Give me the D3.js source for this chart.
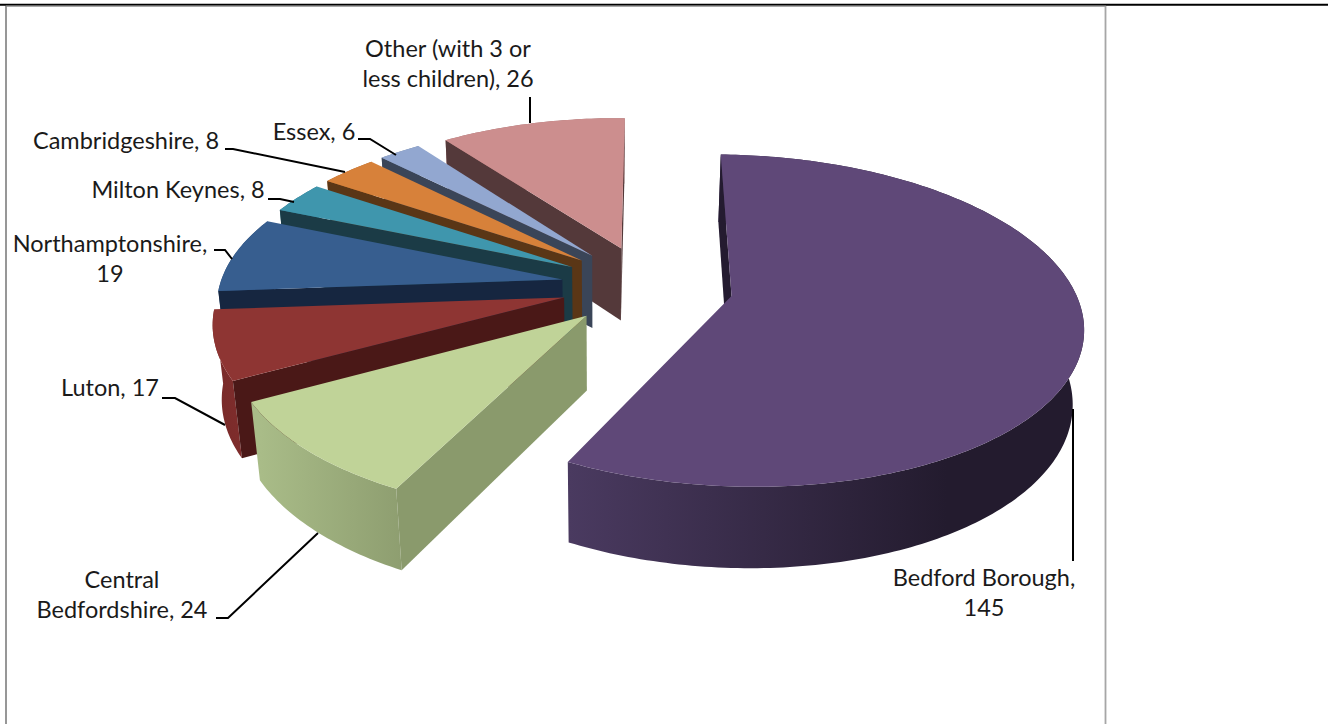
<!DOCTYPE html>
<html><head><meta charset="utf-8">
<script src="https://cdn.jsdelivr.net/npm/d3@7"></script>
<style>html,body{margin:0;padding:0;background:#fff;overflow:hidden}
text{font-family:Lato,"Open Sans",sans-serif;font-size:23.5px;fill:#1a1a1a}</style>
</head><body><svg id="c" width="1328" height="724"></svg>
<script>
// Data
const categories = ["Bedford Borough","Central Bedfordshire","Luton","Northamptonshire","Milton Keynes","Cambridgeshire","Essex","Other (with 3 or less children)"];
const values = [145,24,17,19,8,8,6,26];
const explosions = [85,87,87,87,87,87,87,87];
const radii = [342,343,343,343,343,343,343,343];
// Colours
const topColors  = ["#5f4878","#c0d398","#8e3533","#375e8f","#3f96ad","#d7813a","#92a7d0","#cc8e8e"];
const faceColors = ["#241b30","#8a9a6c","#4a1817","#162640","#1b3b46","#5a3616","#3a4558","#54393a"];
const rimLeft    = ["#4a3a60","#a9bc88","#7a2b2a","#2e4e76","#2f7486","#a8652c","#75869f","#a37171"];
const rimRight   = ["#231b2e","#8e9e70","#7f2d2c","#2e4e76","#2f7486","#a8652c","#75869f","#a37171"];
// Labels and leaders (layout)
const labelLines = [
 {lines:["Bedford Borough,","145"],x:984,y:578,leader:[[1073,409],[1073,561]]},
 {lines:["Central","Bedfordshire, 24"],x:122,y:580,leader:[[216,618],[228,618],[318,533]]},
 {lines:["Luton, 17"],x:110,y:388,leader:[[162,398],[175,398],[225,425]]},
 {lines:["Northamptonshire,","19"],x:110,y:244,leader:[[214,250],[225,250],[232,259]]},
 {lines:["Milton Keynes, 8"],x:178,y:190,leader:[[268,199],[280,199],[294,202]]},
 {lines:["Cambridgeshire, 8"],x:126,y:141,leader:[[225,149],[233,149],[345,172]]},
 {lines:["Essex, 6"],x:314,y:132,leader:[[358,139],[370,139],[396,155]]},
 {lines:["Other (with 3 or","less children), 26"],x:448,y:49,leader:[[530,97],[530,123]]}
];
const lineGap = 29.5;

// Model of the 3D view
const H=85, TILT=27.8*Math.PI/180, DIST=2050, ZP=1.2, PX=600, PY=286, X0=48, ROT=1.2*Math.PI/180;
const st=Math.sin(TILT), ct=Math.cos(TILT);
function project(X,Y,Z){
  const p=DIST/(DIST-Y*ct-Z*st*ZP);
  return [PX+(X+X0)*p, PY+(Y*st-Z*ct)*p];
}
const svg=d3.select("#c");
const defs=svg.append("defs");
const line=d3.line();
const poly=pts=>line(pts)+"Z";

const pie=d3.pie().sort(null).value(d=>d).startAngle(ROT).endAngle(ROT+2*Math.PI);
const arcs=pie(values);

// Back to front: Bedford first, then from the last slice forward
const order=[0,7,6,5,4,3,2,1];
order.forEach(i=>{
  const a=arcs[i], mid=(a.startAngle+a.endAngle)/2, e=explosions[i], R=radii[i];
  const ox=e*Math.sin(mid), oy=-e*Math.cos(mid);
  const pt=(ang,r,z)=>project(ox+r*Math.sin(ang),oy-r*Math.cos(ang),z);
  const n=Math.max(8,Math.ceil((a.endAngle-a.startAngle)*60));
  const angs=d3.range(n+1).map(k=>a.startAngle+(a.endAngle-a.startAngle)*k/n);
  const g=svg.append("g");
  // rim
  const topRim=angs.map(t=>pt(t,R,0)), botRim=angs.map(t=>pt(t,R,-H));
  const xs=botRim.map(d=>d[0]);
  const gid="rim"+i;
  const grad=defs.append("linearGradient").attr("id",gid).attr("gradientUnits","userSpaceOnUse")
    .attr("x1",d3.min(xs)).attr("x2",d3.max(xs)).attr("y1",0).attr("y2",0);
  grad.append("stop").attr("offset",0).attr("stop-color",rimLeft[i]);
  grad.append("stop").attr("offset",i===0?0.75:1).attr("stop-color",rimRight[i]);
  g.append("path").attr("d",poly(topRim.concat(botRim.slice().reverse()))).attr("fill",`url(#${gid})`);
  // radial faces turned towards the viewer
  const wall=ang=>[pt(ang,0,0),pt(ang,R,0),pt(ang,R,-H),pt(ang,0,-H)];
  const ws=wall(a.startAngle), we=wall(a.endAngle);
  if(d3.polygonArea(we)<0) g.append("path").attr("d",poly(we)).attr("fill",faceColors[i]);
  if(d3.polygonArea(ws)>0) g.append("path").attr("d",poly(ws)).attr("fill",faceColors[i]);
  // top face
  g.append("path").attr("d",poly([pt(a.startAngle,0,0)].concat(topRim))).attr("fill",topColors[i]);
});

// Leaders and labels
labelLines.forEach(l=>{
  svg.append("path").attr("d",line(l.leader)).attr("fill","none").attr("stroke","#000").attr("stroke-width",2);
  l.lines.forEach((s,k)=>svg.append("text").attr("x",l.x).attr("y",l.y+k*lineGap).attr("dy","0.35em").attr("text-anchor","middle").text(s));
});

// Frame
const frame=[[0,1328,4.8,4.8,"#000",2],[6,1106,6.2,6.2,"#8c8c8c",1.2],[6,6,6,724,"#8c8c8c",1.8],[1105.5,1105.5,6,724,"#a6a6a6",1.8]];
frame.forEach(f=>svg.append("line").attr("x1",f[0]).attr("x2",f[1]).attr("y1",f[2]).attr("y2",f[3]).attr("stroke",f[4]).attr("stroke-width",f[5]));
</script></body></html>
